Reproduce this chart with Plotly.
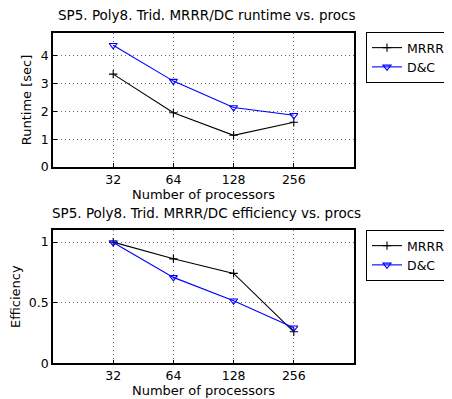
import plotly.graph_objects as go

procs = [32, 64, 128, 256]
tick_labels = ["32", "64", "128", "256"]
runtime_mrrr = [3.34, 1.95, 1.14, 1.61]
runtime_dc = [4.38, 3.09, 2.14, 1.86]
eff_mrrr = [1.0, 0.862, 0.742, 0.26]
eff_dc = [0.997, 0.709, 0.516, 0.293]

FONT = "DejaVu Sans, Liberation Sans, Arial, sans-serif"
OFF = 8  # default page body margin
W, H = 452 - OFF, 399 - OFF


def px(x):
    return (x - OFF) / W


def py(y):
    return 1 - (y - OFF) / H


fig = go.Figure()


def add(x, y, name, color, symbol, xa, ya, legend, msize):
    fig.add_trace(go.Scatter(
        x=x, y=y, name=name, mode="lines+markers",
        line=dict(color=color, width=1.1),
        marker=dict(symbol=symbol, size=msize, color=color,
                    line=dict(color=color, width=1.1)),
        xaxis=xa, yaxis=ya, legend=legend))


add(procs, runtime_mrrr, "MRRR", "black", "cross-thin", "x", "y", "legend", 6)
add(procs, runtime_dc, "D&C", "blue", "triangle-down-open", "x", "y", "legend", 7)
add(procs, eff_mrrr, "MRRR", "black", "cross-thin", "x2", "y2", "legend2", 6)
add(procs, eff_dc, "D&C", "blue", "triangle-down-open", "x2", "y2", "legend2", 7)

xd = [px(53), px(354)]
top_dom = [py(167), py(33)]
bot_dom = [py(363.3), py(230)]

grid = dict(showgrid=True, gridcolor="#666", griddash="1px,3px", gridwidth=1)
xcommon = dict(type="log", range=[1.2041, 2.7093], tickvals=procs, ticktext=tick_labels,
               showline=True, mirror=True, linecolor="black", linewidth=1.5,
               ticks="inside", ticklen=4, tickcolor="black", automargin=False,
               zeroline=False, tickfont=dict(size=12.5, color="black"),
               title=dict(text="Number of processors", font=dict(size=13, color="black"), standoff=0),
               **grid)
ycommon = dict(showline=True, mirror=True, linecolor="black", linewidth=1.5,
               ticks="inside", ticklen=4, tickcolor="black", automargin=False,
               zeroline=False, tickfont=dict(size=12.5, color="black"), **grid)

legcommon = dict(bgcolor="white", bordercolor="black", borderwidth=1,
                 font=dict(size=12.5, color="black", family=FONT),
                 xanchor="left", yanchor="top", tracegroupgap=0,
                 itemwidth=30)

fig.update_layout(
    width=W, height=H, margin=dict(l=0, r=0, t=0, b=0),
    paper_bgcolor="white", plot_bgcolor="white",
    font=dict(family=FONT, color="black", size=12.5),
    xaxis=dict(domain=xd, anchor="y", **xcommon),
    yaxis=dict(domain=top_dom, anchor="x", range=[0, 4.82], tickvals=[0, 1, 2, 3, 4],
               title=dict(text="Runtime [sec]", font=dict(size=13), standoff=6), **ycommon),
    xaxis2=dict(domain=xd, anchor="y2", **xcommon),
    yaxis2=dict(domain=bot_dom, anchor="x2", range=[0, 1.1], tickvals=[0, 0.5, 1],
                ticktext=["0", "0.5", "1"],
                title=dict(text="Efficiency", font=dict(size=13), standoff=6), **ycommon),
    legend=dict(x=px(366), y=py(32), **legcommon),
    legend2=dict(x=px(366), y=py(230), **legcommon),
    annotations=[
        dict(text="SP5. Poly8. Trid. MRRR/DC runtime vs. procs", x=px(206), y=py(15),
             xref="paper", yref="paper", showarrow=False, xanchor="center", yanchor="middle",
             font=dict(size=13.5)),
        dict(text="SP5. Poly8. Trid. MRRR/DC efficiency vs. procs", x=px(206), y=py(213),
             xref="paper", yref="paper", showarrow=False, xanchor="center", yanchor="middle",
             font=dict(size=13.5)),
    ],
)

fig.write_html("out.html")
